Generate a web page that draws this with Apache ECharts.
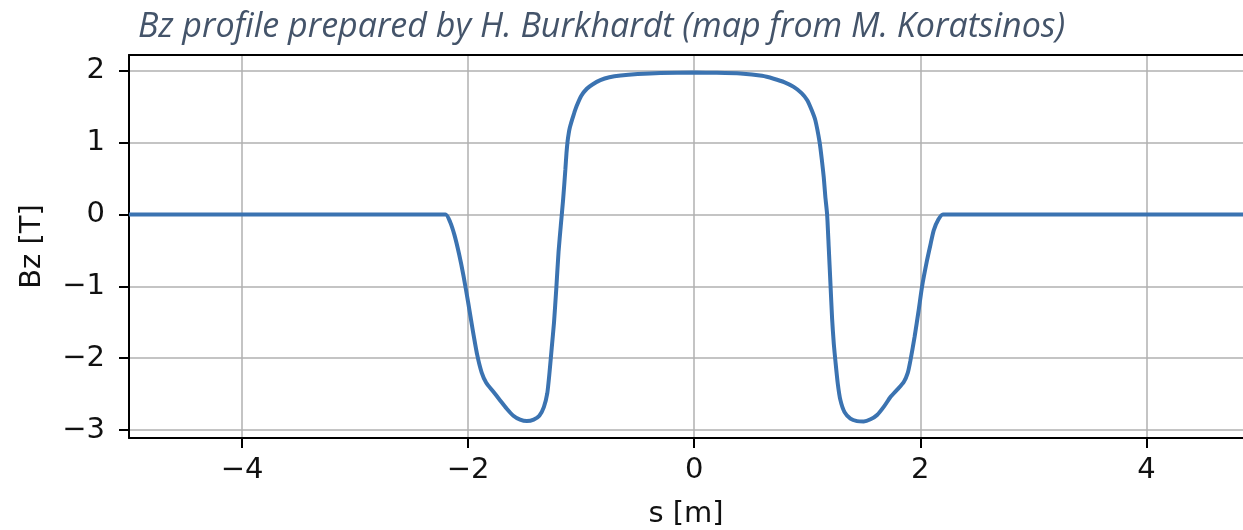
<!DOCTYPE html>
<html>
<head>
<meta charset="utf-8">
<script src="https://cdn.jsdelivr.net/npm/echarts@6/dist/echarts.min.js"></script>
<style>html,body{margin:0;padding:0;background:#fff;}#c{width:1243px;height:530px;}</style>
</head>
<body>
<div id="c"></div>
<script>
// Longitudinal position s [m]
const sValues = [
  -5, -2.2, -2.16, -2.12, -2.08, -2.04, -2.0, -1.96, -1.92, -1.88, -1.84, -1.78, -1.72, -1.66, -1.60,
  -1.54, -1.48, -1.42, -1.37, -1.33, -1.30, -1.28, -1.26, -1.24, -1.22, -1.20, -1.18, -1.16, -1.14,
  -1.13, -1.12, -1.11, -1.10, -1.08, -1.06, -1.04, -1.00, -0.95, -0.90, -0.83, -0.75, -0.65, -0.5, -0.3, 0,
  0.2, 0.409, 0.6, 0.703, 0.8, 0.88, 0.95, 1.0, 1.04, 1.072, 1.11, 1.13, 1.146, 1.16, 1.176, 1.19,
  1.205, 1.22, 1.235, 1.25, 1.27, 1.293, 1.33, 1.382, 1.44, 1.50, 1.56, 1.618, 1.68, 1.736, 1.80,
  1.854, 1.89, 1.913, 1.95, 1.986, 2.016, 2.06, 2.09, 2.119, 2.16, 2.2, 5
];
// Field Bz [T]
const bzValues = [
  0, 0, -0.1, -0.29, -0.55, -0.86, -1.22, -1.6, -1.95, -2.2, -2.34, -2.46, -2.58, -2.7, -2.8,
  -2.855, -2.875, -2.855, -2.8, -2.68, -2.49, -2.2, -1.85, -1.5, -1.03, -0.52, -0.15, 0.2, 0.62,
  0.85, 1.02, 1.13, 1.21, 1.32, 1.42, 1.51, 1.65, 1.75, 1.81, 1.87, 1.91, 1.935, 1.955, 1.97, 1.975,
  1.972, 1.962, 1.93, 1.89, 1.84, 1.776, 1.69, 1.59, 1.45, 1.31, 1.0, 0.75, 0.52, 0.25, 0, -0.45,
  -0.95, -1.45, -1.8, -2.05, -2.35, -2.58, -2.75, -2.84, -2.875, -2.88, -2.85, -2.79, -2.67, -2.54, -2.43,
  -2.33, -2.2, -2.03, -1.7, -1.33, -1.0, -0.636, -0.42, -0.22, -0.07, 0, 0
];
const xTicks = [-4, -2, 0, 2, 4];
const yTicks = [-3, -2, -1, 0, 1, 2];
const titleText = 'Bz profile prepared by H. Burkhardt (map from M. Koratsinos)';

const points = sValues.map((s, i) => [s, bzValues[i]]);
const minus = v => String(v).replace('-', '\u2212');
const tickFont = { fontFamily: 'DejaVu Sans', fontSize: 29, color: '#111' };

const chart = echarts.init(document.getElementById('c'), null, { renderer: 'canvas' });
chart.setOption({
  animation: false,
  backgroundColor: '#fff',
  title: {
    text: titleText,
    left: 133, top: 5,
    textStyle: { fontFamily: 'Open Sans', fontStyle: 'italic', fontWeight: 'normal', fontSize: 34, color: '#44546a' }
  },
  grid: { left: 129, top: 55, bottom: 92, right: 0, containLabel: false, outerBoundsMode: 'none' },
  xAxis: [{
    type: 'value', min: -5, max: 4.855,
    name: 's [m]', nameLocation: 'middle', nameGap: 62,
    nameTextStyle: tickFont,
    axisLine: { show: true, onZero: false, lineStyle: { color: '#000', width: 2 } },
    axisTick: { show: true, inside: false, length: 10, customValues: xTicks, lineStyle: { color: '#000', width: 2 } },
    axisLabel: { customValues: xTicks, margin: 18, formatter: minus, ...tickFont },
    splitLine: { show: true, lineStyle: { color: '#b0b0b0', width: 1.5 } }
  }, {
    type: 'value', min: -5, max: 4.855, position: 'top',
    axisLine: { show: true, onZero: false, lineStyle: { color: '#000', width: 2 } },
    axisTick: { show: false }, axisLabel: { show: false }, splitLine: { show: false }
  }],
  yAxis: {
    type: 'value', min: -3.11, max: 2.22,
    name: 'Bz [T]', nameLocation: 'middle', nameGap: 82, nameRotate: 90,
    nameTextStyle: tickFont,
    axisLine: { show: true, onZero: false, lineStyle: { color: '#000', width: 2 } },
    axisTick: { show: true, inside: false, length: 10, customValues: yTicks, lineStyle: { color: '#000', width: 2 } },
    axisLabel: { customValues: yTicks, margin: 24, formatter: minus, ...tickFont },
    splitLine: { show: true, lineStyle: { color: '#b0b0b0', width: 1.5 } }
  },
  series: [{
    type: 'line', xAxisIndex: 0, data: points, showSymbol: false, smooth: 0.2,
    lineStyle: { color: '#3b73b1', width: 4 }, clip: true
  }]
});
</script>
</body>
</html>
